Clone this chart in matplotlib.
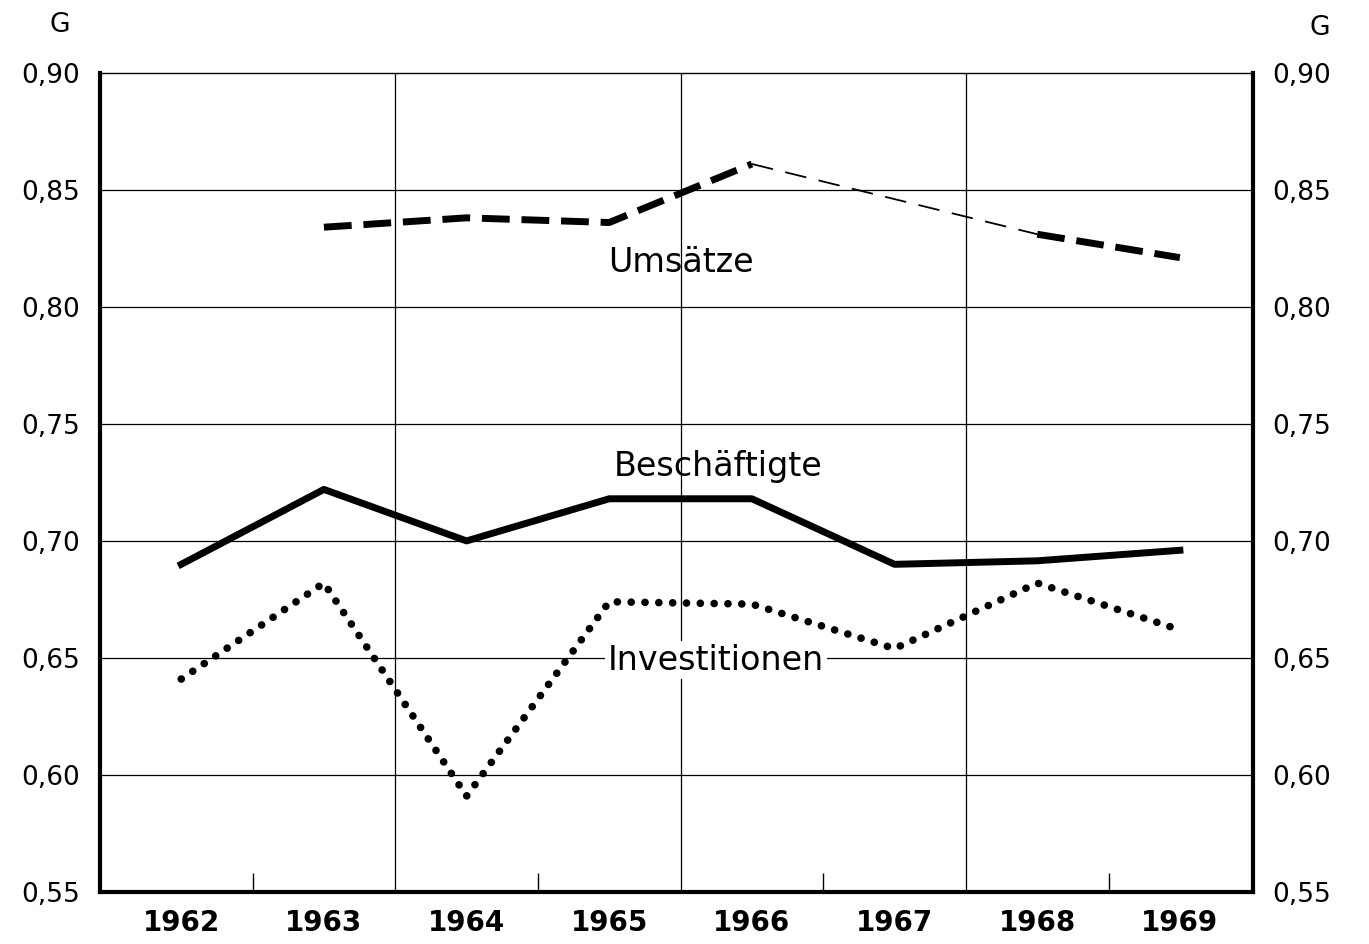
import matplotlib.pyplot as plt
import numpy as np

years = np.arange(1962, 1970)
umsaetze = [np.nan, 0.834, 0.838, 0.836, 0.861, np.nan, 0.831, 0.821]
beschaeftigte = [0.690, 0.722, 0.700, 0.718, 0.718, 0.690, 0.6915, 0.696]
investitionen = [0.641, 0.682, 0.591, 0.674, 0.673, 0.654, 0.682, 0.662]
yticks = [0.55, 0.60, 0.65, 0.70, 0.75, 0.80, 0.85, 0.90]
ylabels = ["0,55", "0,60", "0,65", "0,70", "0,75", "0,80", "0,85", "0,90"]

fig = plt.figure(figsize=(13.69, 9.44), dpi=100)
ax = fig.add_axes([0.073, 0.055, 0.842, 0.868])

ax.set_xlim(1961.43, 1969.51)
ax.set_ylim(0.55, 0.90)

# grid
for y in yticks[1:-1]:
    ax.axhline(y, color='black', lw=0.9, zorder=1)
for x in [1963.5, 1965.5, 1967.5]:
    ax.axvline(x, color='black', lw=0.9, zorder=1)

# Umsätze: thick dashed, thin dashed where 1967 fehlt
u = np.array(umsaetze)
ax.plot(years, u, color='black', lw=5, dashes=(4, 1.7), dash_capstyle='butt', zorder=3)
ax.plot([years[4], years[6]], [u[4], u[6]], color='black', lw=1.3,
        dashes=(12, 7), zorder=3)

ax.plot(years, beschaeftigte, color='black', lw=5, solid_joinstyle='round', zorder=3)
ax.plot(years, investitionen, color='black', lw=5.5, linestyle=(0, (0.01, 1.8)),
        dash_capstyle='round', zorder=3)

ax.text(1965.50, 0.819, "Umsätze", fontsize=24, ha='center', va='center')
ax.text(1965.76, 0.7316, "Beschäftigte", fontsize=24, ha='center', va='center')
ax.text(1965.75, 0.649, "Investitionen", fontsize=24, ha='center', va='center',
        bbox=dict(facecolor='white', edgecolor='none', pad=2), zorder=2)

ax.set_xticks(years)
ax.set_xticklabels([str(y) for y in years], fontsize=20, fontweight='bold')
ax.set_xticks([1962.5, 1964.5, 1966.5, 1968.5], minor=True)
ax.tick_params(axis='x', which='major', length=0, pad=12)
ax.tick_params(axis='x', which='minor', direction='in', length=14, width=1)

ax.set_yticks(yticks)
ax.set_yticklabels(ylabels, fontsize=19)
ax.tick_params(axis='y', length=0, pad=14, labelleft=True, labelright=True)

for side in ['left', 'right', 'bottom']:
    ax.spines[side].set_linewidth(3)
ax.spines['top'].set_linewidth(1)

fig.text(60 / 1369, 1 - 25 / 944, "G", fontsize=19, ha='center', va='center')
fig.text(1320 / 1369, 1 - 28 / 944, "G", fontsize=19, ha='center', va='center')

fig.savefig("out.png", dpi=100)
